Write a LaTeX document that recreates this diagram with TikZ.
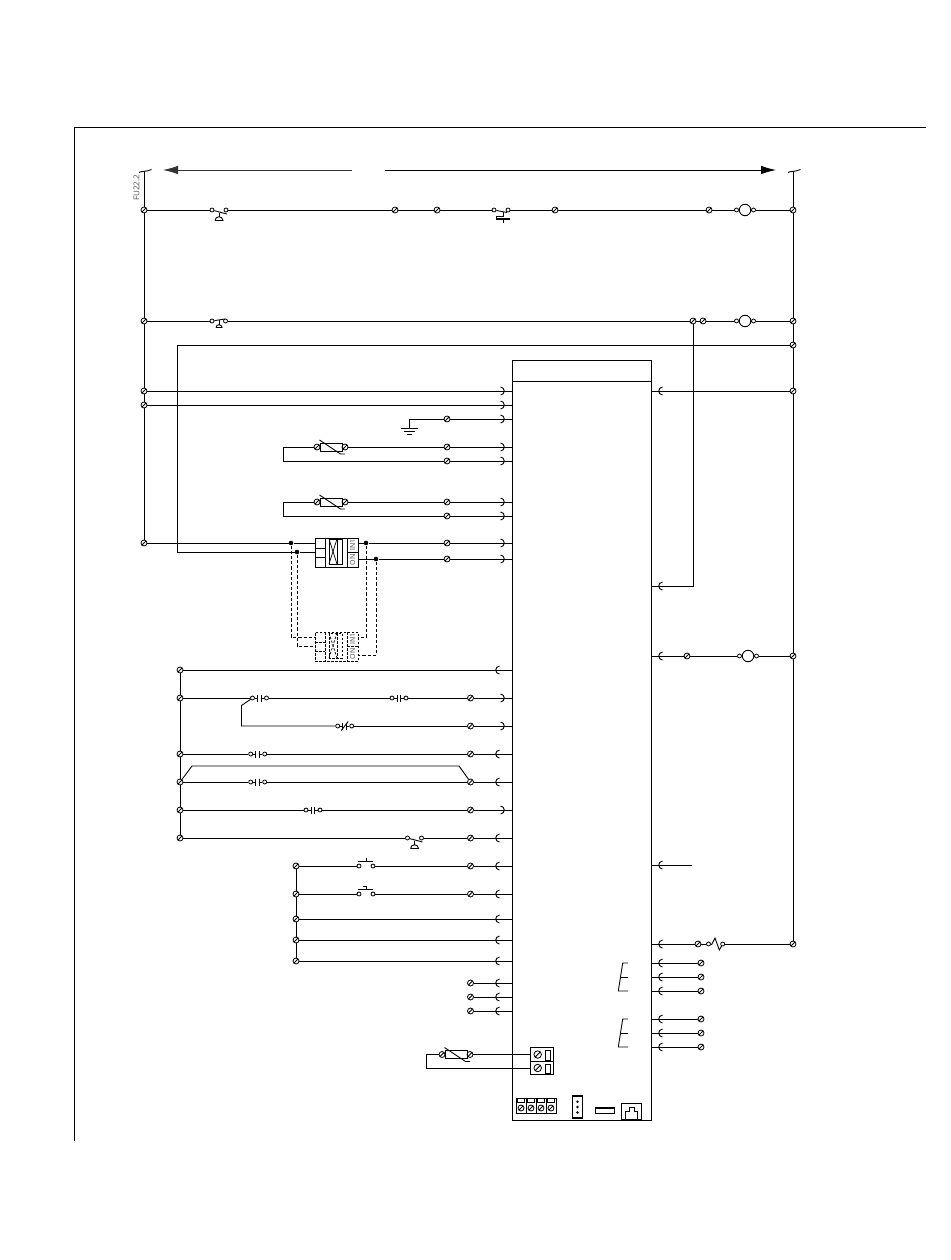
\documentclass[tikz,border=0pt]{standalone}
\usepackage{fontspec}
\setmainfont{Open Sans}
\usetikzlibrary{arrows.meta}

\tikzstyle{wire} = [line width=.9pt]
\tikzstyle{dwire} = [line width=.9pt, dashed, dash pattern=on 3.2pt off 2pt]
\tikzstyle{arrow} = [line width=.9pt,-{Latex[length=15pt,width=8.5pt]}]
\tikzstyle{term} = [circle, draw, fill=white, line width=.8pt, inner sep=0pt, minimum size=6pt, path picture={\draw [line width=.8pt] (path picture bounding box.south west) -- (path picture bounding box.north east);}]
\tikzstyle{screw} = [term, minimum size=7.5pt]
\tikzstyle{cdot} = [circle, draw, fill=white, line width=.8pt, inner sep=0pt, minimum size=4pt]
\tikzstyle{jdot} = [circle, fill=black, inner sep=0pt, minimum size=4.6pt]
\tikzstyle{board} = [rectangle, draw, line width=.9pt, inner sep=0pt]
\tikzstyle{tag} = [inner sep=0pt, text=black!70, rotate=90]

\tikzset{
  plugl/.pic={\draw [wire] (2.5,-4) .. controls (-2.5,-3.5) and (-2.5,3.5) .. (2.5,4);},
  plugr/.pic={\draw [wire] (-2.5,-4) .. controls (2.5,-3.5) and (2.5,3.5) .. (-2.5,4);},
  tilde/.pic={\draw [wire] (-5,1.5) .. controls (-3,0) and (2,1) .. (7.5,-1.5);},
  dome/.pic={\draw [wire] (-4,0) -- (4,0) .. controls (3.5,-5) and (-3.5,-5) .. (-4,0);},
  earth/.pic={\draw [wire] (-8.5,0) -- (8.5,0); \draw [wire] (-5.5,3.2) -- (5.5,3.2); \draw [wire] (-2.5,6.4) -- (2.5,6.4);},
  lamp/.pic={
    \node (-l) [cdot] at (-8.5,0) {};
    \node (-r) [cdot] at (8.5,0) {};
    \node (-c) [circle, draw, line width=.9pt, inner sep=0pt, minimum size=11.5pt] at (0,0) {};
  },
  contact/.pic={
    \node (-l) [cdot] at (-7,0) {};
    \node (-r) [cdot] at (7,0) {};
    \draw [wire] (-l) -- (-1.8,0);
    \draw [wire] (-r) -- (1.8,0);
    \draw [wire] (-1.8,-3.5) -- (-1.8,3.5);
    \draw [wire] (1.8,-3.5) -- (1.8,3.5);
  },
  contactnc/.pic={
    \pic {contact};
    \draw [wire] (-3.5,4.5) -- (3.5,-4.5);
  },
  mushnc/.pic={
    \node (-l) [cdot] at (-7,0) {};
    \node (-r) [cdot] at (7,0) {};
    \draw [wire] (-l) -- (8,4);
    \draw [wire] (0,2.5) -- (0,7);
    \pic at (0,10.5) {dome};
  },
  mushno/.pic={
    \node (-l) [cdot] at (-7,0) {};
    \node (-r) [cdot] at (6.5,0) {};
    \draw [wire] (-l) -- (6,-2);
    \draw [wire] (0,-1) -- (0,4);
    \pic [scale=.75] at (0,6.5) {dome};
  },
  thermo/.pic={
    \node (-l) [cdot] at (-7,0) {};
    \node (-r) [cdot] at (7,0) {};
    \draw [wire] (-l) -- (6,2.5);
    \draw [wire] (2,1.5) -- (2,6) -- (-5,6) -- (-5,9);
    \draw [line width=2pt] (-5,9) -- (9,9);
    \draw [wire] (2,9) -- (2,12.5);
  },
  pushno/.pic={
    \node (-l) [cdot] at (-7,0) {};
    \node (-r) [cdot] at (7,0) {};
    \draw [wire] (-8,-5) -- (7,-5);
    \draw [wire] (0,-8) -- (0,-5);
  },
  pushnc/.pic={
    \node (-l) [cdot] at (-7,0) {};
    \node (-r) [cdot] at (7,0) {};
    \draw [wire] (-8,-5) -- (7,-5);
    \draw [wire] (0,-5) -- (0,-8) -- (-3,-8);
  },
  thermist/.pic={
    \node (-l) [term] at (-14,0) {};
    \node (-r) [term] at (14,0) {};
    \node (-b) [rectangle, draw, line width=.9pt, inner sep=0pt, minimum width=22pt, minimum height=8pt] at (0,0) {};
    \draw [wire] (-11.5,-7) -- (9.5,7) -- (14,7);
  },
  relay/.pic={
    \node (-b) [rectangle, draw, line width=.9pt, inner sep=0pt, minimum width=43pt, minimum height=29pt] at (0,0) {};
    \draw [line width=.9pt] (-11.5,-14.5) -- (-11.5,14.5);
    \draw [line width=.9pt] (-21.5,-4.5) -- (-11.5,-4.5);
    \draw [line width=.9pt] (-21.5,4.5) -- (-11.5,4.5);
    \draw [line width=.9pt] (-7.5,-13.5) rectangle (5.5,11.5);
    \draw [line width=.9pt] (.5,-13.5) -- (.5,11.5);
    \draw [line width=.7pt] (-7.5,-13.5) -- (.5,11.5);
    \draw [line width=.7pt] (-7.5,11.5) -- (.5,-13.5);
    \draw [line width=.9pt] (10.5,-14.5) -- (10.5,14.5);
    \draw [line width=.9pt] (10.5,0) -- (21.5,0);
    \node (-in) [tag] at (16,-7.2) {\fontsize{7}{7}\selectfont IN1};
    \node (-on) [tag] at (16,7.2) {\fontsize{7}{7}\selectfont ON};
  }
}

\begin{document}
\begin{tikzpicture}[x=1pt,y=-1pt]
\useasboundingbox (0,0) rectangle (950,1260);

% frame
\coordinate (fra) at (74,1141);
\coordinate (frb) at (74,127);
\coordinate (frc) at (926,127);
\draw [wire] (fra) -- (frb) -- (frc);

% top arrows
\coordinate (gapl) at (352,170);
\coordinate (tipl) at (163,170);
\coordinate (gapr) at (385,170);
\coordinate (tipr) at (776,170);
\draw [arrow, black!80] (gapl) -- (tipl);
\draw [arrow] (gapr) -- (tipr);
\node (fulabel) [tag] at (136.5,188) {\fontsize{8}{9}\selectfont FU22.2};

% board
\node (mcu) [board, minimum width=139pt, minimum height=760pt] at (581.5,740) {};
\coordinate (head) at (512,381);
\draw [wire] (head) -- (head -| mcu.east);

% bus terminals
\foreach \y in {210,321,391,405,543} \node (bus\y) [term] at (144,\y) {};
\foreach \y in {210,321,345,391,656,944} \node (rb\y) [term] at (793,\y) {};
\foreach \y in {670,698,754,782,810,838} \node (bb\y) [term] at (180,\y) {};
\foreach \y in {866,894,919,940,961} \node (cb\y) [term] at (296,\y) {};

% terminals next to the board
\foreach \y in {419,447,461,502,516,543,559} \node (p\y) [term] at (447,\y) {};
\foreach \y in {698,726,754,782,810,838,866,894,983,997,1011} \node (p\y) [term] at (470.5,\y) {};
\foreach \y in {963,977,991,1019,1033,1047} \node (q\y) [term] at (701,\y) {};
\node (q656) [term] at (687,656) {};
\node (q944) [term] at (698,944) {};
\node (s210a) [term] at (395,210) {};
\node (s210b) [term] at (437,210) {};
\node (s210c) [term] at (555,210) {};
\node (s210d) [term] at (709,210) {};
\node (s321a) [term] at (693,321) {};
\node (s321b) [term] at (703,321) {};

% symbols
\pic (mush210) at (219,210) {mushnc};
\pic (mush321) at (219,321) {mushno};
\pic (mush838) at (414.5,838) {mushnc};
\pic (th210) at (501,210) {thermo};
\pic (lp210) at (745,210) {lamp};
\pic (lp321) at (745,321) {lamp};
\pic (lp656) at (748,656) {lamp};
\pic (ts447) at (331,447) {thermist};
\pic (ts502) at (331,502) {thermist};
\pic (ts1054) at (456,1054.5) {thermist};
\pic (c698a) at (259.5,698) {contact};
\pic (c698b) at (399,698) {contact};
\pic (c726) at (344.7,726) {contactnc};
\pic (c754) at (257.7,754) {contact};
\pic (c782) at (257.7,782) {contact};
\pic (c810) at (313,810) {contact};
\pic (b866) at (366,866) {pushno};
\pic (b894) at (366,894) {pushnc};

% relay and its dashed twin
\pic (rel1) at (336.5,552.5) {relay};
\pic (rel2) [dashed, dash pattern=on 2.5pt off 1.5pt] at (336.5,646.5) {relay};
\node (jd291) [jdot] at (291,543) {};
\node (jd297) [jdot] at (297,552) {};
\node (jd366) [jdot] at (366,543) {};
\node (jd376) [jdot] at (376,559) {};

% plugs
\foreach \y in {391,405,419,447,461,502,516,543,559,698,726,810} \pic at (503,\y) {plugr};
\foreach \y in {670,754,782,838,866,894,919,940,961,983,997,1011} \pic at (497,\y) {plugl};
\foreach \y in {391,586,656,865,944,963,977,991,1019,1033,1047} \pic at (660,\y) {plugl};

% buses
\coordinate (fuleft) at (144,171);
\coordinate (furight) at (793,171);
\pic at (fuleft) {tilde};
\pic at (furight) {tilde};
\draw [wire] (fuleft) -- (bus210) -- (bus321) -- (bus391) -- (bus405) -- (bus543);
\draw [wire] (furight) -- (rb210) -- (rb321) -- (rb345) -- (rb391) -- (rb656) -- (rb944);
\draw [wire] (bb670) -- (bb698) -- (bb754) -- (bb782) -- (bb810) -- (bb838);
\draw [wire] (cb866) -- (cb894) -- (cb919) -- (cb940) -- (cb961);

% rows at the top
\draw [wire] (bus210) -- (mush210-l);
\draw [wire] (mush210-r) -- (s210a) -- (s210b) -- (th210-l);
\draw [wire] (th210-r) -- (s210c) -- (s210d) -- (lp210-l);
\draw [wire] (lp210-l) -- (lp210-c) (lp210-c) -- (lp210-r);
\draw [wire] (lp210-r) -- (rb210);
\draw [wire] (bus321) -- (mush321-l);
\draw [wire] (mush321-r) -- (s321a) -- (s321b) -- (lp321-l);
\draw [wire] (lp321-l) -- (lp321-c) (lp321-c) -- (lp321-r);
\draw [wire] (lp321-r) -- (rb321);
\coordinate (k345) at (177,345);
\coordinate (k552) at (177,552);
\draw [wire] (rb345) -- (k345) -- (k552) -- (jd297);
\coordinate (k586) at (693,586);
\draw [wire] (s321a) -- (k586) -- (k586 -| mcu.east);

% straight runs into the board
\foreach \a in {bus391,bus405,p419,p447,p461,p502,p516,p543,p559,p698,p726,p754,p782,p810,p838,p866,p894,p983,p997,p1011,bb670,cb919,cb940,cb961}
  \draw [wire] (\a) -- (\a -| mcu.west);
\foreach \a in {rb391,q656,q944,q963,q977,q991,q1019,q1033,q1047}
  \draw [wire] (\a) -- (\a -| mcu.east);

% earth
\coordinate (gt) at (409.5,428);
\draw [wire] (p419) -| (gt);
\pic at (gt) {earth};

% temperature sensors
\coordinate (k461) at (283.5,461);
\coordinate (k516) at (283.5,516);
\draw [wire] (ts447-r) -- (p447);
\draw [wire] (ts447-l) -| (k461) -- (p461);
\draw [wire] (ts502-r) -- (p502);
\draw [wire] (ts502-l) -| (k516) -- (p516);

% relay wiring
\draw [wire] (bus543) -- (jd291) -- (jd291 -| rel1-b.west);
\draw [wire] (jd297) -- (jd297 -| rel1-b.west);
\draw [wire] (jd366 -| rel1-b.east) -- (jd366) -- (p543);
\draw [wire] (jd376 -| rel1-b.east) -- (jd376) -- (p559);
\coordinate (d637l) at (315,637);
\coordinate (d646l) at (315,646);
\coordinate (d637r) at (358,637);
\coordinate (d655r) at (358,655);
\draw [dwire] (jd291) |- (d637l);
\draw [dwire] (jd297) |- (d646l);
\draw [dwire] (jd366) |- (d637r);
\draw [dwire] (jd376) |- (d655r);

% contacts
\draw [wire] (bb698) -- (c698a-l);
\draw [wire] (c698a-r) -- (c698b-l);
\draw [wire] (c698b-r) -- (p698);
\coordinate (k705) at (241.5,705.5);
\coordinate (k726) at (241.5,726);
\draw [wire] (c698a-l) -- (k705) -- (k726) -- (c726-l);
\draw [wire] (c726-r) -- (p726);
\draw [wire] (bb754) -- (c754-l);
\draw [wire] (c754-r) -- (p754);
\draw [wire] (bb782) -- (c782-l);
\draw [wire] (c782-r) -- (p782);
\coordinate (k766a) at (192,766);
\coordinate (k766b) at (459,766);
\draw [wire] (bb782) -- (k766a) -- (k766b) -- (p782);
\draw [wire] (bb810) -- (c810-l);
\draw [wire] (c810-r) -- (p810);
\draw [wire] (bb838) -- (mush838-l);
\draw [wire] (mush838-r) -- (p838);
\draw [wire] (cb866) -- (b866-l);
\draw [wire] (b866-r) -- (p866);
\draw [wire] (cb894) -- (b894-l);
\draw [wire] (b894-r) -- (p894);

% right side rows
\draw [wire] (q656) -- (lp656-l);
\draw [wire] (lp656-l) -- (lp656-c) (lp656-c) -- (lp656-r);
\draw [wire] (lp656-r) -- (rb656);
\coordinate (k865) at (692,865);
\draw [wire] (k865) -- (k865 -| mcu.east);
\node (kl944a) [cdot] at (708.5,944) {};
\node (kl944b) [cdot] at (722.7,944) {};
\draw [wire] (q944) -- (kl944a);
\draw [wire] (kl944a) -- (711.7,944.5) -- (715,938) -- (719.3,950) -- (kl944b);
\draw [wire] (kl944b) -- (rb944);

% brackets
\foreach \y in {963,1019} {
  \draw [wire] (628,\y) -- (622.7,\y) -- (618.3,\y+28) -- (628,\y+28);
  \draw [wire] (620.5,\y+14) -- (628,\y+14);
}

% terminal block
\node (tb1) [board, minimum width=22.6pt, minimum height=13.5pt] at (542,1054.5) {};
\node (tb2) [board, minimum width=22.6pt, minimum height=13.5pt] at (542,1068) {};
\node (sc1) [screw] at (537.7,1054.5) {};
\node (sc2) [screw] at (537.7,1068) {};
\node (pa1) [board, minimum width=4.5pt, minimum height=9.5pt] at (548,1055.5) {};
\node (pa2) [board, minimum width=4.5pt, minimum height=8.5pt] at (548,1069) {};
\coordinate (k1068) at (426,1068);
\draw [wire] (ts1054-r) -- (tb1.west);
\draw [wire] (ts1054-l) -| (k1068) -- (tb2.west);

% connectors at the bottom of the board
\foreach \x in {521,531,541,551} {
  \node (cell\x) [board, minimum width=10pt, minimum height=15pt] at (\x,1105.5) {};
  \node (top\x) [board, minimum width=7pt, minimum height=3.6pt] at (\x,1100.3) {};
  \node (sc\x) [term] at (\x,1108) {};
}
\node (pin) [board, line width=1.4pt, minimum width=9.6pt, minimum height=22pt] at (577.5,1107) {};
\foreach \y in {1101.7,1107,1112.5} \node (pin\y) [circle, fill=black, inner sep=0pt, minimum size=2.6pt] at (577.5,\y) {};
\node (usb) [board, line width=1pt, minimum width=19pt, minimum height=6pt] at (604.5,1110) {};
\coordinate (usba) at (595,1107.8);
\draw [line width=1.8pt] (usba) -- (usba -| usb.east);
\node (rj) [board, minimum width=19.4pt, minimum height=16pt] at (631.3,1111) {};
\coordinate (rja) at (625.7,1119);
\coordinate (rjb) at (637,1119);
\draw [wire] (rja) -- (625.7,1111) -- (629,1111) -- (629,1107) -- (634.3,1107) -- (634.3,1111) -- (637,1111) -- (rjb);

\end{tikzpicture}
\end{document}
